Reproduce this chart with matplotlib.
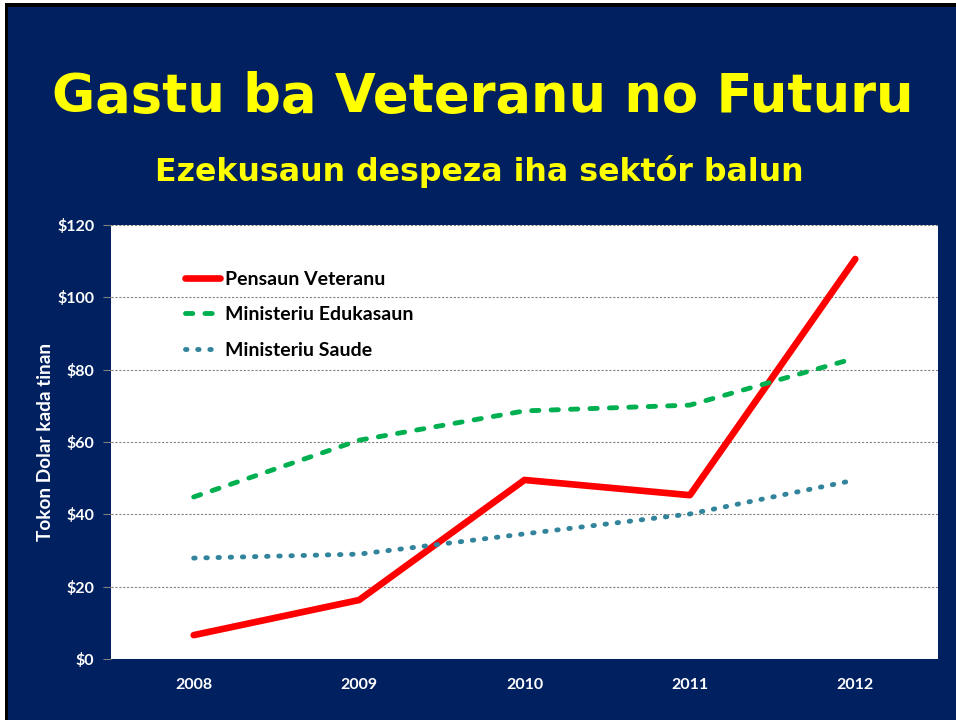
import matplotlib
matplotlib.use('Agg')
import matplotlib.pyplot as plt
from matplotlib.patches import Rectangle

years = ['2008', '2009', '2010', '2011', '2012']
pensaun_veteranu = [6.6, 16.3, 49.5, 45.3, 110.6]
ministeriu_edukasaun = [44.8, 60.5, 68.6, 70.2, 83.2]
ministeriu_saude = [27.9, 29.0, 34.6, 40.1, 49.5]
yticks = [0, 20, 40, 60, 80, 100, 120]

navy = '#002060'
W, H = 956, 720

fig = plt.figure(figsize=(W / 100, H / 100), dpi=100, facecolor='white')
# slide background with thin black frame on top/left
fig.patches.append(Rectangle((5 / W, 0), 1, 1 - 3 / H, transform=fig.transFigure,
                             facecolor='black', edgecolor='none', zorder=-10))
fig.patches.append(Rectangle((8 / W, 0), 1, 1 - 7 / H, transform=fig.transFigure,
                             facecolor=navy, edgecolor='none', zorder=-9))

fig.text(483 / W, 1 - 97 / H, 'Gastu ba Veteranu no Futuru', color='#FFFF00',
         fontsize=38, fontweight='bold', family='DejaVu Sans', ha='center', va='center')
fig.text(479 / W, 1 - 172 / H, 'Ezekusaun despeza iha sektór balun', color='#FFFF00',
         fontsize=22.8, fontweight='bold', family='DejaVu Sans', ha='center', va='center')

ax = fig.add_axes([111 / W, 1 - 659 / H, (938 - 111) / W, (659 - 225) / H], zorder=1)
ax.set_facecolor('white')
x = range(len(years))
ax.plot(x, pensaun_veteranu, color='#FF0000', lw=4.8, solid_capstyle='round',
        label='Pensaun Veteranu', zorder=3)
ax.plot(x, ministeriu_edukasaun, color='#00B050', lw=3.5, linestyle=(0, (1.5, 2.5)),
        dash_capstyle='round', label='Ministeriu Edukasaun', zorder=3)
ax.plot(x, ministeriu_saude, color='#31849B', lw=3.5, linestyle=(0, (0.3, 2.2)),
        dash_capstyle='round', label='Ministeriu Saude', zorder=3)

ax.set_xlim(-0.5, len(years) - 0.5)
ax.set_ylim(0, 120)
ax.set_xticks(list(x))
ax.set_xticklabels(years)
ax.set_yticks(yticks)
ax.set_yticklabels(['$%d' % v for v in yticks])
ax.yaxis.grid(True, color='#808080', linestyle=(0, (2, 1.5)), lw=0.8)
for s in ax.spines.values():
    s.set_visible(False)
ax.tick_params(axis='x', length=0, pad=14, colors='white', labelsize=11.5)
ax.tick_params(axis='y', length=6, width=0.8, pad=6, colors='white', labelsize=11.5)
ax.tick_params(axis='y', color='#808080')
for lab in ax.get_xticklabels() + ax.get_yticklabels():
    lab.set_fontweight('bold')
    lab.set_family('Lato')
ax.set_ylabel('Tokon Dolar kada tinan', color='white', fontsize=13.7,
              fontweight='bold', family='Lato', labelpad=2)

leg = ax.legend(loc='upper left', bbox_to_anchor=(0.068, 0.935), frameon=False,
                handlelength=1.8, handletextpad=0.25, labelspacing=0.95,
                prop={'family': 'Lato', 'weight': 'bold', 'size': 14})

fig.savefig('out.png', dpi=100, facecolor=fig.get_facecolor())
